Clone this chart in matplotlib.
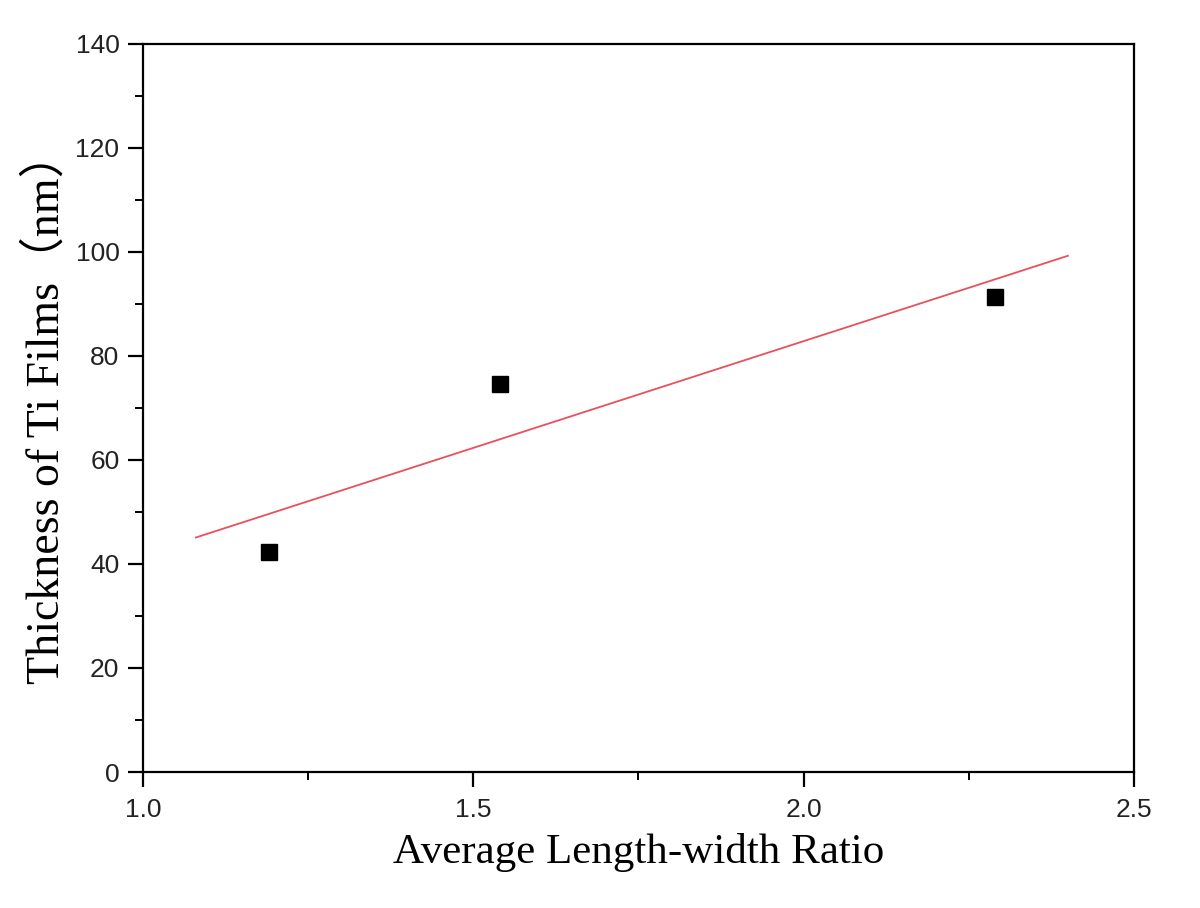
import numpy as np
import matplotlib
matplotlib.use('Agg')
import matplotlib.pyplot as plt
from matplotlib.ticker import MultipleLocator

# measured points
ratio = [1.19, 1.54, 2.29]
thickness = [42.3, 74.6, 91.3]

# linear fit drawn over this x span
fit_start, fit_end = 1.08, 2.40

fig = plt.figure(figsize=(12, 9.08), dpi=100)
ax = fig.add_axes([143/1200, 1 - 772/908, (1134-143)/1200, (772-43.5)/908])

coef = np.polyfit(ratio, thickness, 1)
xf = np.array([fit_start, fit_end])
ax.plot(xf, np.polyval(coef, xf), color='#e8505c', lw=1.3)
ax.plot(ratio, thickness, 's', color='black', ms=11, linestyle='none')

ax.set_xlim(1.0, 2.5)
ax.set_ylim(0, 140)
ax.xaxis.set_major_locator(MultipleLocator(0.5))
ax.xaxis.set_minor_locator(MultipleLocator(0.25))
ax.yaxis.set_major_locator(MultipleLocator(20))
ax.yaxis.set_minor_locator(MultipleLocator(10))
ax.xaxis.set_major_formatter(matplotlib.ticker.FormatStrFormatter('%.1f'))

for s in ax.spines.values():
    s.set_linewidth(1.6)
ax.tick_params(which='major', direction='out', length=11, width=1.6,
               labelsize=19, top=False, right=False)
ax.tick_params(axis='x', which='major', pad=8)
ax.tick_params(axis='y', which='major', pad=6)
ax.tick_params(which='minor', direction='out', length=6, width=1.4,
               top=False, right=False)
for lab in ax.get_xticklabels() + ax.get_yticklabels():
    lab.set_family('Liberation Sans')
    lab.set_color('#222222')

ax.set_xlabel('Average Length-width Ratio', fontsize=31,
              family=['Liberation Serif', 'Noto Sans CJK SC'], labelpad=8)
ax.set_ylabel('Thickness of Ti Films（nm）', fontsize=33,
              family=['Liberation Serif', 'Noto Sans CJK SC'], labelpad=5)

fig.savefig('out.png', dpi=100)
